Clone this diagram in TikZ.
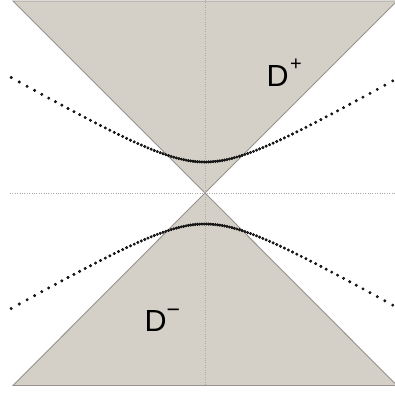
\documentclass[tikz,border=0pt]{standalone}
\usepackage{fontspec}
\setmainfont{Liberation Sans}
\definecolor{conefill}{RGB}{212,208,200}
\definecolor{coneline}{RGB}{150,146,140}
\definecolor{axisgray}{RGB}{170,170,170}
\newcommand{\supsign}[4]{\kern#2\raisebox{#3}{\fontsize{#4}{20}\selectfont #1}}
\tikzset{
  cone/.style={fill=conefill, draw=coneline, line width=0.9pt, line join=miter},
  axisline/.style={draw=axisgray, line width=0.6pt, dash pattern=on 0.8pt off 1.6pt},
  hyperdots/.style={only marks, mark=*, mark size=1.3pt, mark options={draw=none, fill=black!85}},
  dlabel/.style={inner sep=0pt, anchor=base west, font=\fontsize{30.5}{36}\selectfont}
}
\begin{document}
\begin{tikzpicture}[x=1pt, y=-1pt]
\useasboundingbox (0,0) rectangle (395,394);
\coordinate (C) at (205,193);
% cones
\filldraw[cone] (C) -- (13,1) -- (397,1) -- cycle;
\filldraw[cone] (C) -- (13,385.5) -- (397,385.5) -- cycle;
% axes
\coordinate (vtop) at (205,0);
\coordinate (vbot) at (205,386);
\coordinate (hl) at (10,193);
\coordinate (hr) at (395,193);
\draw[axisline] (vtop) -- (vbot);
\draw[axisline] (hl) -- (hr);
% hyperbolas as dots
\path plot[hyperdots, domain=-1.99:1.96, samples=97] ({205+54*sinh(\x)},{193-31*cosh(\x)});
\path plot[hyperdots, domain=-1.99:1.96, samples=97] ({205+54*sinh(\x)},{193+31*cosh(\x)});
% labels
\node[dlabel] (Dplus) at (266.5,86) {D\supsign{+}{1.5pt}{15.5pt}{20}};
\node[dlabel] (Dminus) at (144.5,331) {D\supsign{−}{0pt}{14pt}{23}};
\end{tikzpicture}
\end{document}
